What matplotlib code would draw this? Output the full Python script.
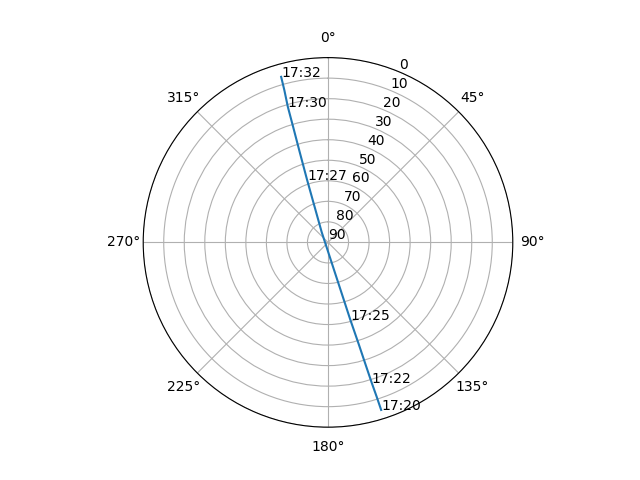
import numpy as np
import matplotlib
matplotlib.use("Agg")
import matplotlib.pyplot as plt

# satellite pass, one point per minute
times = ["17:20", "17:21", "17:22", "17:23", "17:24", "17:25", "17:26",
         "17:27", "17:28", "17:29", "17:30", "17:31", "17:32"]
azimuth = [162.4, 162.5, 162.7, 162.9, 163.2, 163.9, 328.5,
           341.5, 342.6, 343.2, 343.5, 344.0, 344.2]
elevation = [4.4, 11.3, 18.3, 27.5, 38.3, 50.7, 84.1,
             58.0, 44.0, 31.4, 21.1, 12.9, 6.2]
labelled = ["17:20", "17:22", "17:25", "17:27", "17:30", "17:32"]

fig = plt.figure(figsize=(6.4, 4.8), dpi=100)
ax = fig.add_subplot(111, projection="polar")
ax.set_theta_zero_location("N")
ax.set_theta_direction(-1)

theta = np.radians(azimuth)
ax.plot(theta, elevation)

for t, th, el in zip(times, theta, elevation):
    if t in labelled:
        ax.text(th, el, t)

ax.set_ylim(90, 0)
ax.set_yticks(range(0, 91, 10))

fig.savefig("out.png")
